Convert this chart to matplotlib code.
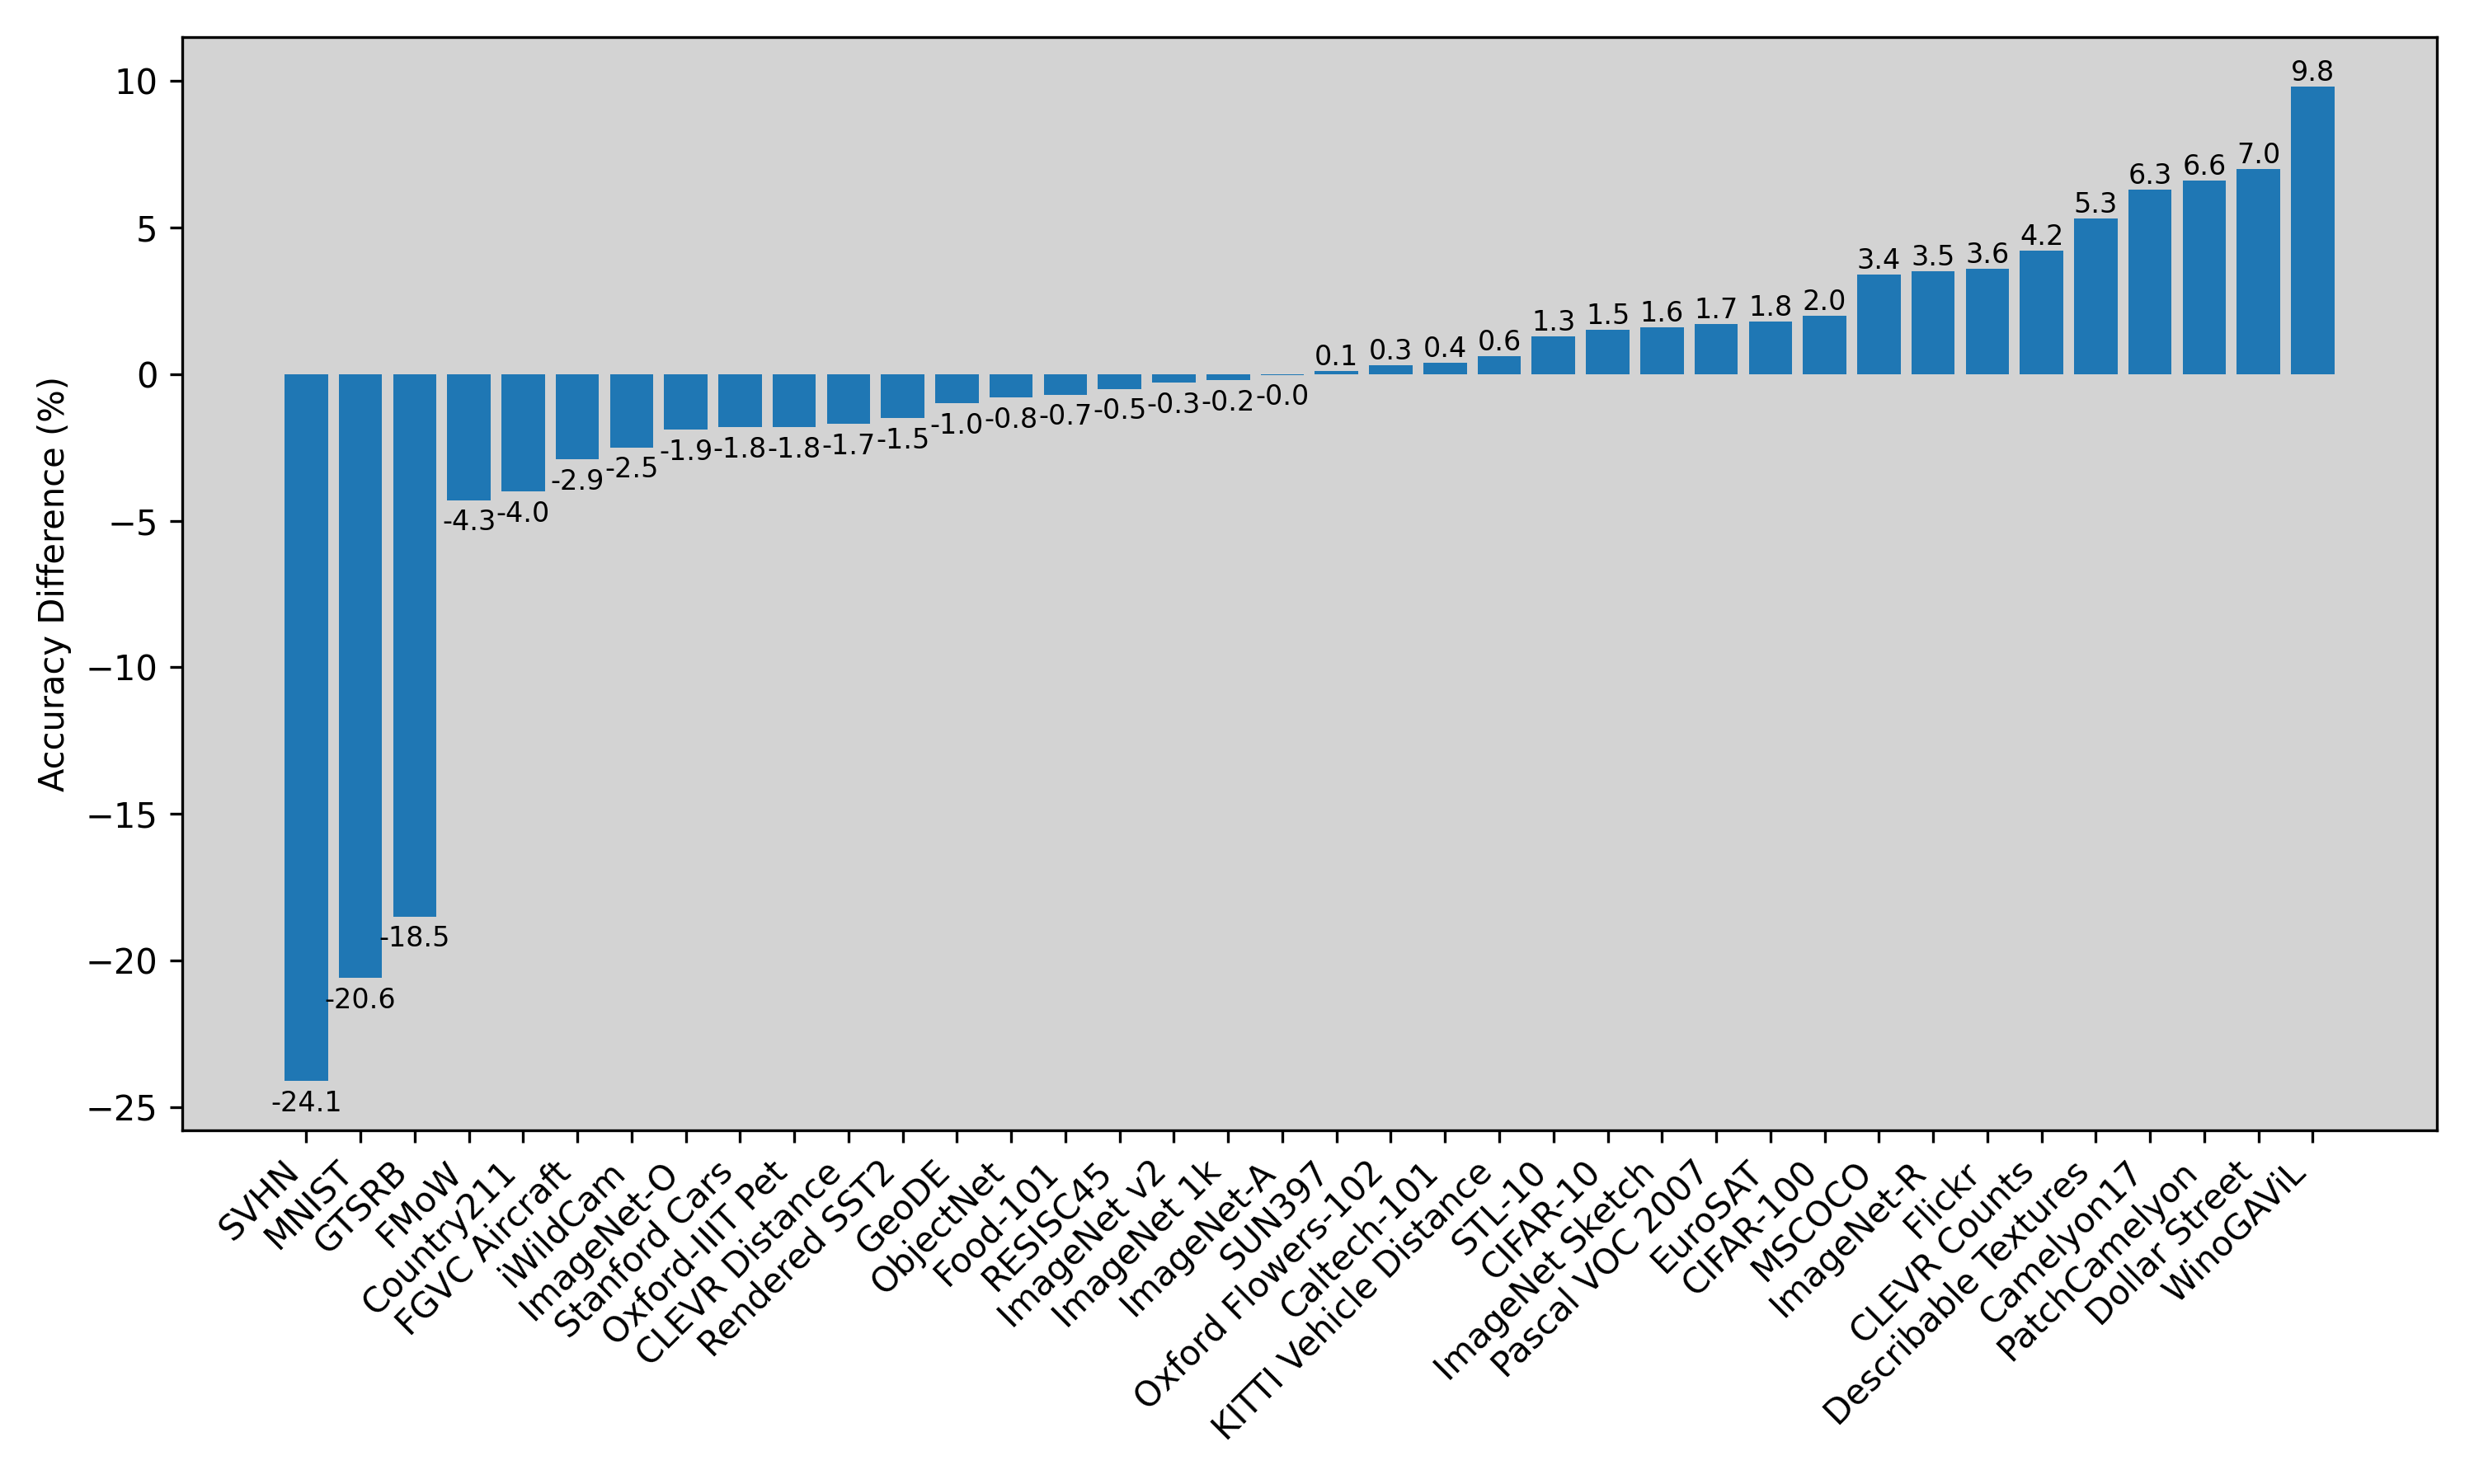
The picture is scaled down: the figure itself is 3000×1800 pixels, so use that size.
import matplotlib
matplotlib.use("Agg")
import matplotlib.pyplot as plt
import numpy as np

datasets = [
    "SVHN", "MNIST", "GTSRB", "FMoW", "Country211", "FGVC Aircraft", "iWildCam",
    "ImageNet-O", "Stanford Cars", "Oxford-IIIT Pet", "CLEVR Distance", "Rendered SST2",
    "GeoDE", "ObjectNet", "Food-101", "RESISC45", "ImageNet v2", "ImageNet 1k",
    "ImageNet-A", "SUN397", "Oxford Flowers-102", "Caltech-101", "KITTI Vehicle Distance",
    "STL-10", "CIFAR-10", "ImageNet Sketch", "Pascal VOC 2007", "EuroSAT", "CIFAR-100",
    "MSCOCO", "ImageNet-R", "Flickr", "CLEVR Counts", "Describable Textures",
    "Camelyon17", "PatchCamelyon", "Dollar Street", "WinoGAViL",
]
acc_diff = [
    -24.1, -20.6, -18.5, -4.3, -4.0, -2.9, -2.5,
    -1.9, -1.8, -1.8, -1.7, -1.5,
    -1.0, -0.8, -0.7, -0.5, -0.3, -0.2,
    -0.02, 0.1, 0.3, 0.4, 0.6,
    1.3, 1.5, 1.6, 1.7, 1.8, 2.0,
    3.4, 3.5, 3.6, 4.2, 5.3,
    6.3, 6.6, 7.0, 9.8,
]

fig, ax = plt.subplots(figsize=(10, 6), dpi=300)
ax.set_facecolor("lightgray")

x = np.arange(len(datasets))
bars = ax.bar(x, acc_diff, color="#1f77b4")

# value labels: above positive bars, a little below negative ones
for b, v in zip(bars, acc_diff):
    cx = b.get_x() + b.get_width() / 2
    if v >= 0:
        ax.text(cx, v, f"{v:.1f}", ha="center", va="bottom", fontsize=8)
    else:
        ax.text(cx, v - 0.3, f"{v:.1f}", ha="center", va="top", fontsize=8)

ax.set_xticks(x)
ax.set_xticklabels(datasets, rotation=45, ha="right")
ax.set_ylabel("Accuracy Difference (%)")

plt.tight_layout()
plt.savefig("out.png")
